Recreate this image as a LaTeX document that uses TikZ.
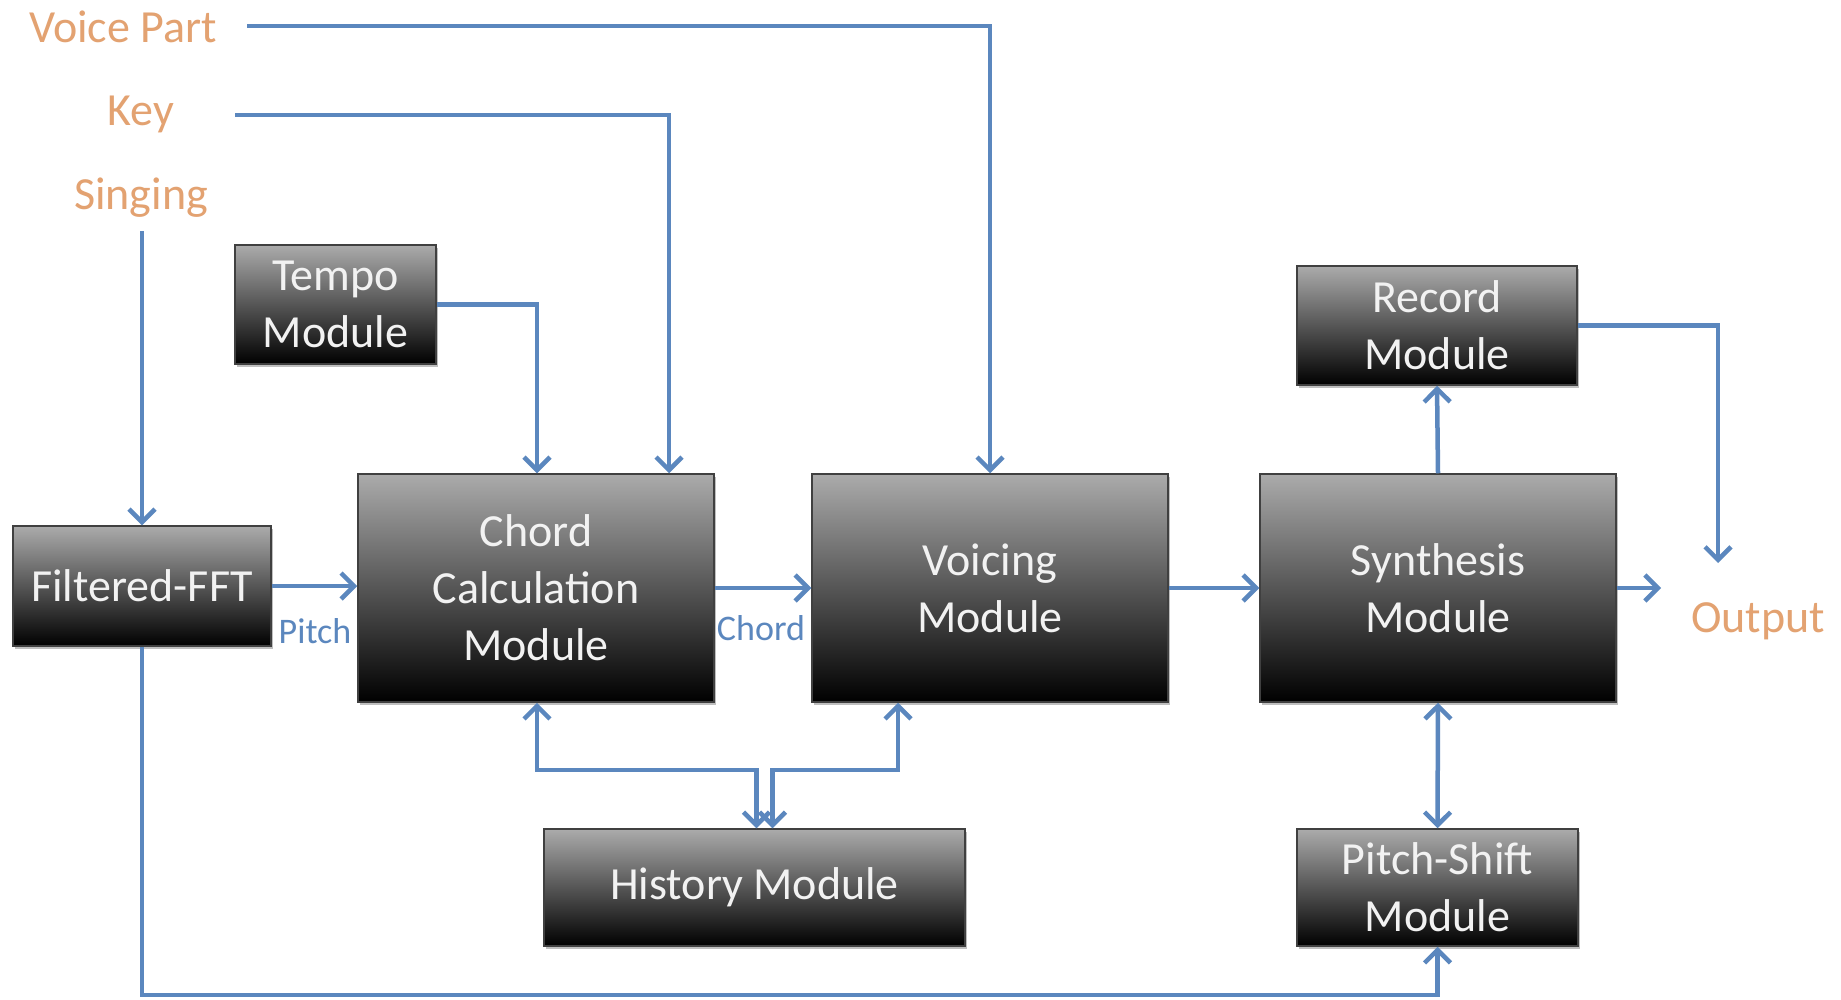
\documentclass[tikz,border=0pt]{standalone}
\usepackage{fontspec}
\setmainfont{Carlito}
\usetikzlibrary{arrows.meta,shadows}
\definecolor{lnblue}{HTML}{5B87BE}
\definecolor{inorange}{HTML}{E3A271}
\definecolor{boxtop}{HTML}{ABABAB}
\definecolor{boxtxt}{HTML}{F2F2F2}
\begin{document}
\begin{tikzpicture}[x=1pt,y=-1pt,
  modbox/.style={draw=black!75, line width=1.5pt, top color=boxtop, bottom color=black,
    text=boxtxt, align=center, inner sep=0pt,
    font=\fontsize{46}{57}\selectfont,
    drop shadow={shadow xshift=2pt, shadow yshift=-3pt, opacity=0.25, fill=black}},
  intext/.style={text=inorange, font=\fontsize{46}{57}\selectfont, inner sep=0pt},
  lbl/.style={text=lnblue, font=\fontsize{36}{44}\selectfont, inner sep=0pt},
  tip/.style={},
  arr/.style={draw=lnblue, line width=4.5pt, -{Straight Barb[length=13pt,width=26pt,line width=4.5pt]}},
  dbl/.style={draw=lnblue, line width=4.5pt, {Straight Barb[length=13pt,width=26pt,line width=4.5pt]}-{Straight Barb[length=13pt,width=26pt,line width=4.5pt]}}
]
\useasboundingbox[fill=white] (0,0) rectangle (1841,999);

% inputs
\node[intext] (vp) at (123,27) {Voice Part};
\node[intext] (key) at (141,114) {Key};
\node[intext] (sing) at (141,198) {Singing};
\node[intext] (out) at (1758,621) {Output};
\coordinate (vpstart) at (247,26);
\coordinate (keystart) at (235,115);
\coordinate (singstart) at (142,231);
\coordinate (outin) at (1661,588);
\coordinate (outtop) at (1718,563);

% boxes
\node[modbox, minimum width=258, minimum height=120] (fft) at (142,586) {Filtered-FFT};
\node[modbox, minimum width=356, minimum height=228] (chord) at (536,588) {Chord\\Calculation\\Module};
\node[modbox, minimum width=356, minimum height=228] (voicing) at (990,588) {Voicing\\Module};
\node[modbox, minimum width=356, minimum height=228] (synth) at (1438,588) {Synthesis\\Module};
\node[modbox, minimum width=201, minimum height=119] (tempo) at (335.5,304.5) {Tempo\\Module};
\node[modbox, minimum width=280, minimum height=119] (record) at (1437,325.5) {Record\\Module};
\node[modbox, minimum width=281, minimum height=117] (pitch) at (1437.5,887.5) {Pitch-Shift\\Module};
\node[modbox, minimum width=421, minimum height=117] (history) at (754.5,887.5) {History Module};

% connectors
\draw[arr] (vpstart) -| (voicing.north);
\draw[arr] (keystart) -| ([xshift=133pt]chord.north);
\draw[arr] (tempo.east) -| ([xshift=1pt]chord.north);
\draw[arr] (singstart) -- (fft.north);
\draw[arr] (fft.east) -- (fft.east -| chord.west);
\draw[arr] (chord.east) -- (voicing.west);
\draw[arr] (voicing.east) -- (synth.west);
\draw[arr] (synth.east) -- (outin);
\draw[arr] (synth.north) -- (record.south);
\draw[arr] (record.east) -| (outtop);
\draw[dbl] (synth.south) -- (pitch.north);
\draw[arr] (fft.south) |- ([yshift=-48pt]pitch.south) -- (pitch.south);
\draw[dbl] ([xshift=1pt]chord.south) -- ++(0,67) -| ([xshift=2pt]history.north);
\draw[dbl] ([xshift=-92pt]voicing.south) -- ++(0,67) -| ([xshift=18pt]history.north);

% labels
\node[lbl] (pitchlbl) at (315,631) {Pitch};
\node[lbl] (chordlbl) at (761,628) {Chord};
\end{tikzpicture}
\end{document}
